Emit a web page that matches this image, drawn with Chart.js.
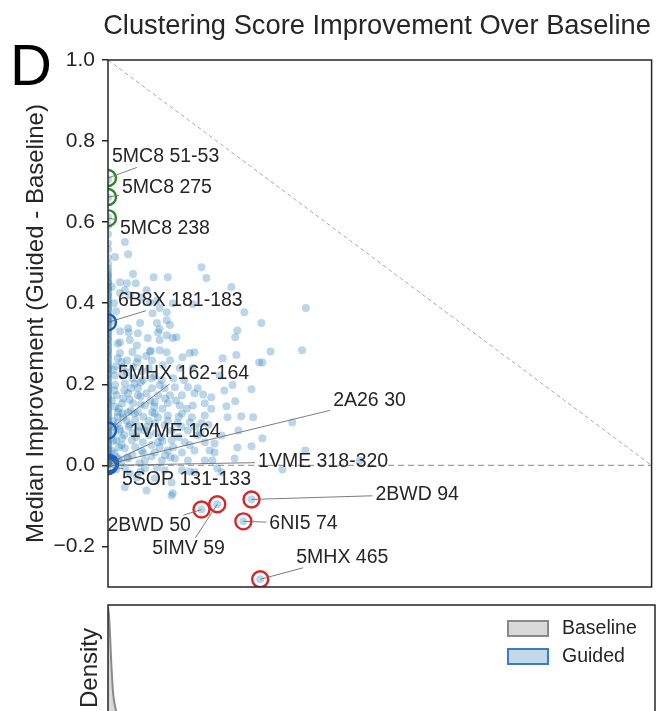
<!DOCTYPE html>
<html><head><meta charset="utf-8">
<script src="https://cdn.jsdelivr.net/npm/chart.js@4/dist/chart.umd.min.js"></script>
<style>
html,body{margin:0;padding:0;overflow:hidden;background:#fff;width:662px;height:711px}
#c1{position:absolute;left:0;top:0}
#c2{position:absolute;left:0;top:590px}
</style></head><body>
<canvas id="c1" width="662" height="600"></canvas>
<canvas id="c2" width="662" height="260"></canvas>
<script>
// ---------------- DATA ----------------
const chartTitle = 'Clustering Score Improvement Over Baseline';
const panelLetter = 'D';
const yAxisTitle = 'Median Improvement (Guided - Baseline)';
const densityTitle = 'Density';
const yTicks = [-0.2, 0.0, 0.2, 0.4, 0.6, 0.8, 1.0];
const yTickLabels = ['\u22120.2', '0.0', '0.2', '0.4', '0.6', '0.8', '1.0'];

// regions with baseline score > 0 : baseline score (x) and median improvement (y)
const scoreBaseline = [
0.031,0.013,0.037,0.172,0.181,0.046,0.022,0.035,0.051,0.084,0.110,0.227,0.071,0.031,0.022,0.040,0.062,0.077,0.090,0.119,
0.156,0.095,0.108,0.082,0.251,0.364,0.282,0.059,0.090,0.108,0.022,0.038,0.073,0.095,0.114,0.095,0.126,0.053,0.077,0.079,
0.022,0.095,0.150,0.137,0.211,0.236,0.299,0.357,0.278,0.035,0.053,0.037,0.055,0.022,0.040,0.092,0.108,0.119,0.108,0.159,
0.018,0.055,0.081,0.114,0.027,0.046,0.101,0.132,0.156,0.013,0.027,0.013,0.031,0.049,0.064,0.081,0.104,0.123,0.147,0.165,
0.016,0.037,0.055,0.071,0.092,0.114,0.136,0.159,0.026,0.046,0.068,0.086,0.110,0.132,0.156,0.178,0.018,0.037,0.055,0.081,
0.027,0.049,0.086,0.110,0.136,0.154,0.178,0.018,0.086,0.104,0.128,0.150,0.172,0.068,0.117,0.147,0.165,0.026,0.044,0.064,
0.092,0.117,0.141,0.178,0.031,0.062,0.086,0.110,0.136,0.159,0.187,0.037,0.068,0.099,0.123,0.147,0.178,0.031,0.068,0.104,
0.136,0.159,0.053,0.086,0.117,0.031,0.119,0.071,0.220,0.245,0.267,0.209,0.240,0.339,0.284,0.264,0.238,0.196,0.196,0.233,
0.192,0.201,0.209,0.321,0.363,0.463,0.238,0.234,0.284,0.205,0.229,0.214,0.264,0.190,0.218,0.234,0.150,0.117,0.264,0.249,
0.201,0.172,0.280,0.009,0.015,0.007,0.016,0.009,0.022,0.013,0.007,0.020,0.011,0.024,0.040,0.058,0.045,0.034,0.075,0.060,
0.042,0.009,0.018,0.009,0.011,0.007,0.015,0.062,0.086,0.075,0.099,
0.020,0.045,0.058,0.080,0.095,0.030,0.052,0.075,0.098,0.012,0.028,0.050,0.065,0.092,0.020,0.040,0.078,0.100,0.125,0.030,
0.055,0.095,0.120,0.045,0.025,0.070,0.140,0.130,0.160,0.145,0.060,0.090,0.040,0.015,0.105,0.120,0.170,0.185,0.190,0.175,
0.012,0.025,0.035,0.050,0.065,0.080,0.100,0.115,0.130,0.150,0.010,0.022,0.038,0.055,0.072,0.088,0.110,0.135,0.018,0.042,
0.060,0.085,0.105,0.028,0.012,0.035,0.060,0.080,0.015,0.045
];
const scoreGain = [
0.551,0.514,0.521,0.489,0.462,0.472,0.452,0.449,0.449,0.464,0.464,0.440,0.432,0.432,0.425,0.420,0.415,0.402,0.407,0.400,
0.398,0.388,0.378,0.375,0.378,0.388,0.351,0.351,0.351,0.358,0.331,0.328,0.314,0.336,0.346,0.309,0.316,0.296,0.281,0.283,
0.277,0.284,0.277,0.267,0.264,0.272,0.281,0.284,0.254,0.259,0.254,0.338,0.326,0.304,0.309,0.328,0.321,0.314,0.279,0.279,
0.264,0.264,0.259,0.259,0.242,0.242,0.247,0.240,0.240,0.222,0.222,0.198,0.202,0.202,0.210,0.190,0.190,0.193,0.193,0.190,
0.173,0.178,0.173,0.178,0.173,0.173,0.173,0.178,0.153,0.153,0.148,0.156,0.153,0.148,0.148,0.153,0.131,0.131,0.131,0.131,
0.128,0.128,0.128,0.123,0.128,0.119,0.123,0.104,0.104,0.099,0.104,0.106,0.104,0.086,0.086,0.086,0.074,0.067,0.062,0.057,
0.057,0.062,0.057,0.057,0.042,0.037,0.032,0.037,0.032,0.037,0.037,0.017,0.012,0.012,0.017,0.012,0.012,-0.005,-0.007,-0.012,
-0.012,-0.017,-0.030,-0.032,-0.042,-0.054,-0.069,-0.062,0.119,0.121,0.119,0.074,0.086,0.106,0.067,0.047,0.044,0.054,0.032,0.017,
0.012,-0.007,-0.017,-0.010,0.037,0.012,0.333,0.316,0.254,0.222,0.198,0.185,0.188,0.168,0.146,0.158,-0.015,-0.074,-0.084,-0.138,
-0.096,-0.109,-0.281,0.081,0.062,0.037,0.020,0.110,0.090,0.145,0.160,0.045,0.010,0.008,0.100,0.095,0.080,0.110,0.110,0.170,
0.190,0.236,0.300,0.357,0.400,0.440,0.380,0.232,0.220,0.240,0.210,
0.015,0.025,0.005,0.022,0.045,0.075,0.070,0.075,0.070,0.095,0.118,0.112,0.120,0.118,0.140,0.162,0.160,0.140,0.160,0.185,
0.190,0.198,0.215,0.215,0.255,0.270,0.210,0.120,0.095,0.140,-0.015,-0.005,-0.020,-0.010,0.025,0.045,0.080,0.100,0.140,0.175,
0.030,0.050,0.020,0.045,0.030,0.050,0.060,0.020,0.070,0.050,0.060,0.085,0.095,0.085,0.095,0.080,0.110,0.095,0.120,0.135,
0.150,0.145,0.165,0.165,0.185,0.230,0.205,0.215,0.245,0.280
];
// regions whose baseline score is 0 : median improvement only
const zeroBaselineGain = [
0.705,0.660,0.612,0.592,0.571,0.548,0.533,0.512,0.497,0.486,0.479,0.471,0.463,0.455,0.449,0.441,0.434,0.426,0.418,0.411,
0.405,0.396,0.389,0.383,0.374,0.366,0.359,0.353,0.347,0.338,0.331,0.323,0.316,0.309,0.301,0.294,0.286,0.279,0.272,0.264,
0.257,0.249,0.243,0.236,0.228,0.221,0.214,0.206,0.199,0.193,0.186,0.178,0.171,0.165,0.157,0.150,0.142,0.136,0.129,0.121,
0.114,0.107,0.099,0.093,0.086,0.079,0.071,0.064,0.057,0.049,0.043,0.036,0.028,0.021,0.014,0.008,0.003,0.000,
0.468,0.452,0.437,0.421,0.402,0.386,0.371,0.356,0.341,0.327,0.311,0.297,0.283,0.268,0.252,0.239,0.224,0.211,0.196,0.182,
0.168,0.153,0.139,0.125,0.110,0.096,0.082,0.067,0.053,0.039,0.025,0.011,0.005,0.002
];

// highlighted regions
const annoNames = ['5MC8 51-53','5MC8 275','5MC8 238','6B8X 181-183','5MHX 162-164','1VME 164','2A26 30','1VME 318-320','5SOP 131-133','2BWD 94','6NI5 74','5IMV 59','2BWD 50','5MHX 465'];
const annoBaseline = [0, 0, 0, 0, 0, 0.003, 0.004, 0.002, 0, 0.264, 0.249, 0.201, 0.172, 0.280];
const annoGain = [0.709, 0.662, 0.610, 0.353, 0.086, 0.006, 0.004, 0.000, -0.002, -0.084, -0.138, -0.096, -0.109, -0.281];
const annoGroup = ['top','top','top','mid','mid','mid','mid','mid','mid','worse','worse','worse','worse','worse'];

// reference lines
const diagX = [0, 1], diagY = [1, 0];
const zeroX = [0, 1], zeroY = [0, 0];

// density panel
const densX = [0, 0.002, 0.004, 0.006, 0.008, 0.01, 0.015, 0.02, 0.03, 0.04, 0.06, 0.08, 0.1, 0.15, 0.2, 0.25, 0.3, 0.35, 0.4, 0.5, 0.6, 0.8, 1.0];
const densBaseline = [9.9, 9.4, 8.3, 7.0, 6.0, 5.3, 4.5, 3.4, 1.8, 1.0, 0.5, 0.38, 0.3, 0.25, 0.2, 0.15, 0.1, 0.06, 0.04, 0.02, 0.01, 0, 0];
const densGuided = [1.2, 1.3, 1.35, 1.4, 1.45, 1.5, 1.6, 1.7, 1.9, 2.0, 2.1, 2.1, 2.0, 1.7, 1.3, 0.9, 0.6, 0.35, 0.2, 0.06, 0.02, 0, 0];
const legendNames = ['Baseline', 'Guided'];

// ---------------- STYLE / LAYOUT ----------------
const FONT = '"Liberation Sans", Arial, Helvetica, sans-serif';
const TXT = '#262626';
const groupColors = {top: '#2a8a2a', mid: '#1a5fc8', worse: '#d62728'};
// label offsets (px) from the highlighted point to the label's left-middle
const labelOffsets = [[4,-21],[14,-9],[12,11],[10,-22],[10,-57],[20,-31],[223,-63],[149,-4],[14,13],[124,-5],[26,2],[-65,44],[-94,16],[36,-22]];

const pts = (xs, ys) => xs.map((x, i) => ({x, y: ys[i]}));

const topDecor = {
  id: 'topDecor',
  afterDatasetsDraw(chart) {
    const {ctx, chartArea: a, scales: {x, y}} = chart;
    ctx.save();
    ctx.font = `19.5px ${FONT}`;
    ctx.textBaseline = 'middle';
    ctx.textAlign = 'left';
    const items = annoNames.map((name, i) => {
      const px = x.getPixelForValue(annoBaseline[i]), py = y.getPixelForValue(annoGain[i]);
      const lx = px + labelOffsets[i][0], ly = py + labelOffsets[i][1];
      const w = ctx.measureText(name).width, h = 15, pad = 3;
      return {name, px, py, lx, ly, w, bx0: lx - pad, bx1: lx + w + pad, by0: ly - h / 2 - pad, by1: ly + h / 2 + pad};
    });
    ctx.strokeStyle = '#6e6e6e';
    ctx.lineWidth = 0.9;
    items.forEach(o => {
      const cx = o.lx + o.w / 2, cy = o.ly;
      const dx = cx - o.px, dy = cy - o.py;
      const tx = dx !== 0 ? Math.min((o.bx0 - o.px) / dx, (o.bx1 - o.px) / dx) : -Infinity;
      const ty = dy !== 0 ? Math.min((o.by0 - o.py) / dy, (o.by1 - o.py) / dy) : -Infinity;
      const t = Math.max(tx, ty);
      if (t > 0 && t < 1) {
        ctx.beginPath();
        ctx.moveTo(o.px, o.py);
        ctx.lineTo(o.px + dx * t, o.py + dy * t);
        ctx.stroke();
      }
    });
    ctx.fillStyle = TXT;
    items.forEach(o => ctx.fillText(o.name, o.lx, o.ly));
    ctx.restore();
  },
  afterDraw(chart) {
    const {ctx, chartArea: a} = chart;
    ctx.save();
    ctx.strokeStyle = TXT;
    ctx.lineWidth = 1.5;
    ctx.strokeRect(a.left, a.top, a.right - a.left, a.bottom - a.top);
    ctx.fillStyle = TXT;
    ctx.textAlign = 'center';
    ctx.textBaseline = 'alphabetic';
    ctx.font = `27.3px ${FONT}`;
    ctx.fillText(chartTitle, 377, 34);
    ctx.fillStyle = '#000';
    ctx.textAlign = 'left';
    ctx.font = `58px ${FONT}`;
    ctx.fillText(panelLetter, 10, 85);
    ctx.fillStyle = TXT;
    ctx.translate(36, (a.top + a.bottom) / 2);
    ctx.rotate(-Math.PI / 2);
    ctx.textAlign = 'center';
    ctx.textBaseline = 'middle';
    ctx.font = `24px ${FONT}`;
    ctx.fillText(yAxisTitle, 0, 0);
    ctx.restore();
  }
};

new Chart(document.getElementById('c1'), {
  type: 'scatter',
  data: {
    datasets: [
      {label: 'highlighted', data: pts(annoBaseline, annoGain), pointRadius: 8, pointBorderWidth: 2.4,
       pointBackgroundColor: 'rgba(0,0,0,0)', pointBorderColor: annoGroup.map(g => groupColors[g]), order: 0, clip: 0},
      {label: 'regions', data: pts(scoreBaseline, scoreGain), pointRadius: 4, pointBorderWidth: 0,
       pointBackgroundColor: 'rgba(31,119,180,0.3)', order: 1, clip: 0},
      {label: 'zero baseline', data: zeroBaselineGain.map(v => ({x: 0, y: v})), pointRadius: 4, pointBorderWidth: 0,
       pointBackgroundColor: 'rgba(31,119,180,0.3)', order: 1, clip: 0},
      {label: 'max possible', data: pts(diagX, diagY), showLine: true, borderColor: '#a8a8a8', borderWidth: 1,
       borderDash: [4, 3], pointRadius: 0, order: 3},
      {label: 'no change', data: pts(zeroX, zeroY), showLine: true, borderColor: '#a0a0a0', borderWidth: 1.4,
       borderDash: [6, 4], pointRadius: 0, order: 3}
    ]
  },
  options: {
    responsive: false, animation: false,
    layout: {padding: {top: 60, left: 0, right: 7, bottom: 13}},
    plugins: {legend: {display: false}, tooltip: {enabled: false}, title: {display: false}},
    scales: {
      x: {type: 'linear', min: 0, max: 1, display: false},
      y: {
        type: 'linear', min: -0.3, max: 1.0,
        afterFit(s) { s.width = 108; s.paddingTop = 0; s.paddingBottom = 0; },
        afterBuildTicks(s) { s.ticks = yTicks.map(v => ({value: v})); },
        ticks: {
          callback: (v) => { const i = yTicks.findIndex(t => Math.abs(t - v) < 1e-9); return i >= 0 ? yTickLabels[i] : ''; },
          font: {family: FONT, size: 21}, color: TXT, padding: 7
        },
        grid: {drawOnChartArea: false, drawTicks: true, tickLength: 6, color: TXT, lineWidth: 1.5},
        border: {display: false}
      }
    }
  },
  plugins: [topDecor]
});

const botDecor = {
  id: 'botDecor',
  afterDraw(chart) {
    const {ctx, chartArea: a} = chart;
    ctx.save();
    ctx.strokeStyle = TXT;
    ctx.lineWidth = 1.5;
    ctx.strokeRect(a.left, a.top, a.right - a.left, a.bottom - a.top);
    // legend
    const ds = chart.data.datasets;
    ctx.font = `19.5px ${FONT}`;
    ctx.textBaseline = 'middle';
    ctx.textAlign = 'left';
    legendNames.forEach((n, i) => {
      const yy = 31 + i * 28;
      ctx.fillStyle = '#fff';
      ctx.fillRect(508, yy, 40, 15);
      ctx.fillStyle = ds[i].backgroundColor;
      ctx.fillRect(508, yy, 40, 15);
      ctx.strokeStyle = ds[i].borderColor;
      ctx.lineWidth = 2;
      ctx.strokeRect(508, yy, 40, 15);
      ctx.fillStyle = TXT;
      ctx.fillText(n, 562, yy + 8);
    });
    ctx.translate(90, 78);
    ctx.rotate(-Math.PI / 2);
    ctx.textAlign = 'center';
    ctx.font = `24px ${FONT}`;
    ctx.fillText(densityTitle, 0, 0);
    ctx.restore();
  }
};

new Chart(document.getElementById('c2'), {
  type: 'scatter',
  data: {
    datasets: [
      {label: legendNames[0], data: pts(densX, densBaseline), showLine: true, fill: 'origin',
       backgroundColor: 'rgba(160,160,160,0.4)', borderColor: '#8a8a8a', borderWidth: 2, pointRadius: 0,
       cubicInterpolationMode: 'monotone'},
      {label: legendNames[1], data: pts(densX, densGuided), showLine: true, fill: 'origin',
       backgroundColor: 'rgba(31,119,180,0.28)', borderColor: '#3a7ebf', borderWidth: 2, pointRadius: 0,
       cubicInterpolationMode: 'monotone'}
    ]
  },
  options: {
    responsive: false, animation: false,
    layout: {padding: {top: 15, left: 0, right: 7, bottom: 50}},
    plugins: {legend: {display: false}, tooltip: {enabled: false}},
    scales: {
      x: {type: 'linear', min: 0, max: 1, display: false},
      y: {type: 'linear', min: 0, max: 10, afterFit(s) { s.width = 108; s.paddingTop = 0; s.paddingBottom = 0; },
          ticks: {display: false}, grid: {display: false}, border: {display: false}}
    }
  },
  plugins: [botDecor]
});
</script>
</body></html>
